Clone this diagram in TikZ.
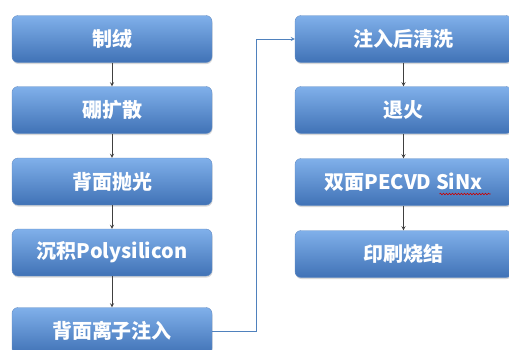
\documentclass[tikz,border=0pt]{standalone}
\usepackage{fontspec}
\newfontfamily\cjk{Noto Sans CJK SC}
\usetikzlibrary{arrows,shadows,positioning,decorations.pathmorphing}
\definecolor{boxtop}{RGB}{128,176,234}
\definecolor{boxmid}{RGB}{86,141,212}
\definecolor{boxbot}{RGB}{64,114,182}
\definecolor{linkblue}{RGB}{79,129,189}
\tikzstyle{stepbox}=[rectangle, rounded corners=6pt, minimum height=47pt, text=white,
  top color=boxtop, middle color=boxmid, bottom color=boxbot, draw=boxbot!80!white, line width=0.4pt,
  drop shadow={shadow xshift=0.5pt, shadow yshift=-1.5pt, opacity=0.3},
  font=\cjk\bfseries\fontsize{20}{24}\selectfont]
\tikzstyle{leftbox}=[stepbox, minimum width=200pt]
\tikzstyle{rightbox}=[stepbox, minimum width=217pt]
\tikzstyle{flow}=[->, >=stealth, draw=black!75, line width=0.8pt]

\begin{document}
\begin{tikzpicture}[x=1pt,y=-1pt]
				\useasboundingbox(0,0)rectangle(509,349);
				\fill[white](0,0)rectangle(509,349);
				\clip(0,0)rectangle(509,349);
				% left column
				\node[leftbox](zhirong)at(112,39){制绒};
				\node[leftbox](pengks)at(112,110){硼扩散};
				\node[leftbox](paoguang)at(112,181.5){背面抛光};
				\node[leftbox](poly)at(112,252.5){沉积Polysilicon};
				\node[leftbox](zhuru)at(112,331){背面离子注入};
				% right column
				\node[rightbox](qingxi)at(403.5,39){注入后清洗};
				\node[rightbox](tuihuo)at(403.5,110){退火};
				\node[rightbox](pecvd)at(403.5,182){双面PECVD SiNx};
				\node[rightbox](shaojie)at(403.5,254){印刷烧结};
				\draw[flow](zhirong)--(pengks);
				\draw[flow](pengks)--(paoguang);
				\draw[flow](paoguang)--(poly);
				\draw[flow](poly)--(zhuru);
				\draw[flow](qingxi)--(tuihuo);
				\draw[flow](tuihuo)--(pecvd);
				\draw[flow](pecvd)--(shaojie);
				\draw[->, >=stealth, linkblue, line width=0.8pt](zhuru.east)--++(44,0)|-(qingxi.west);
				\draw[red!80!black, line width=0.6pt, decorate, decoration={snake, amplitude=0.8pt, segment length=3pt}]
					([xshift=36pt,yshift=-12pt]pecvd.center)--([xshift=87pt,yshift=-12pt]pecvd.center);
			\end{tikzpicture}
\end{document}
